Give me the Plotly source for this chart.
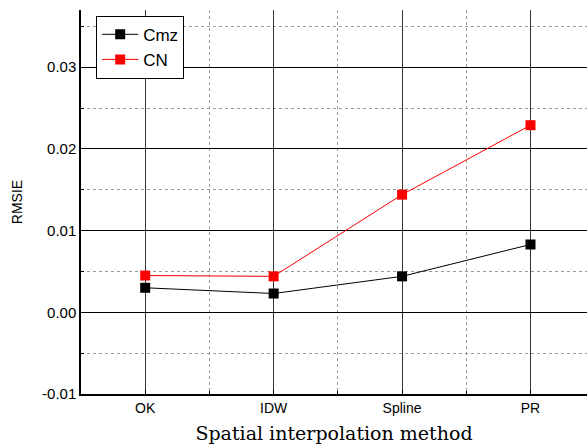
import plotly.graph_objects as go

methods = ["OK", "IDW", "Spline", "PR"]
cmz = [0.0030, 0.0023, 0.0044, 0.0083]
cn = [0.0045, 0.0044, 0.0144, 0.0229]
yticks = [-0.01, 0.00, 0.01, 0.02, 0.03]
ytick_text = ["-0.01", "0.00", "0.01", "0.02", "0.03"]

xpos = list(range(1, len(methods) + 1))

fig = go.Figure()
fig.add_trace(go.Scatter(x=xpos, y=cmz, name="Cmz", mode="lines+markers",
                         line=dict(color="black", width=1),
                         marker=dict(symbol="square", size=10, color="black")))
fig.add_trace(go.Scatter(x=xpos, y=cn, name="CN", mode="lines+markers",
                         line=dict(color="red", width=1),
                         marker=dict(symbol="square", size=10, color="red")))

fig.update_layout(
    width=587, height=448,
    margin=dict(l=81, r=0, t=10, b=54),
    plot_bgcolor="white", paper_bgcolor="white",
    font=dict(family="Liberation Sans, Arial", size=14, color="black"),
    showlegend=True,
    legend=dict(x=0.03, y=0.985, xanchor="left", yanchor="top",
                bgcolor="white", bordercolor="black", borderwidth=1,
                font=dict(size=17), tracegroupgap=0, itemwidth=36),
)
fig.update_xaxes(
    range=[0.5, 4.44],
    tickmode="array", tickvals=xpos, ticktext=methods,
    showgrid=True, gridcolor="#333", gridwidth=1,
    showline=True, linecolor="black", linewidth=1.5,
    ticks="inside", ticklen=4, tickcolor="black",
    zeroline=False,
    minor=dict(tickmode="array", tickvals=[1.5, 2.5, 3.5], showgrid=True,
               gridcolor="#999", griddash="dot", gridwidth=1,
               ticks="inside", ticklen=3, tickcolor="black"),
    title=dict(text="Spatial interpolation method",
               font=dict(family="DejaVu Serif, serif", size=19), standoff=12),
    tickfont=dict(size=14),
)
fig.update_yaxes(
    range=[-0.01, 0.037],
    tickmode="array", tickvals=yticks, ticktext=ytick_text,
    showgrid=True, gridcolor="black", gridwidth=1,
    showline=True, linecolor="black", linewidth=1.5,
    ticks="inside", ticklen=5, tickcolor="black",
    zeroline=False,
    minor=dict(tickmode="array", tickvals=[-0.005, 0.005, 0.015, 0.025, 0.035],
               showgrid=True, gridcolor="#999", griddash="dot", gridwidth=1,
               ticks="inside", ticklen=3, tickcolor="black"),
    title=dict(text="RMSIE", font=dict(size=14), standoff=16),
    tickfont=dict(size=15),
)

fig.write_html("out.html")
